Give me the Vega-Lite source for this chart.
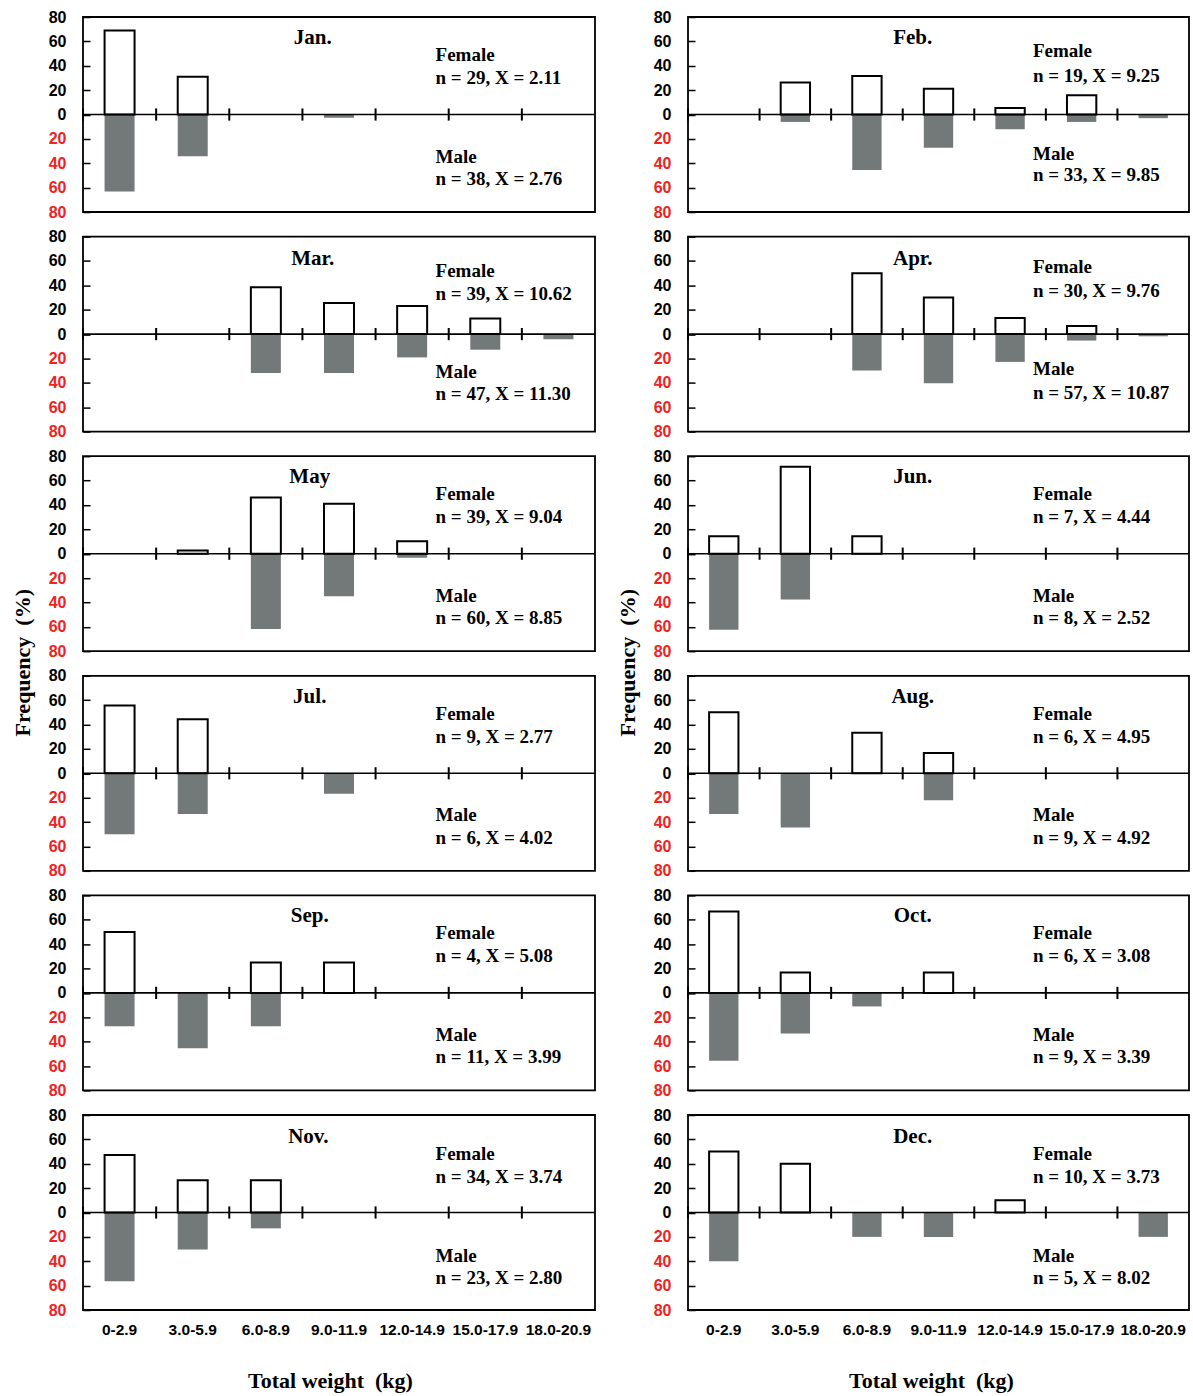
{
  "$schema": "https://vega.github.io/schema/vega-lite/v6.json",
  "padding": {"left": 10, "top": 8, "right": 2, "bottom": 2},
  "background": "white",
  "datasets": {
    "d": [
      {"month": "Jan", "cat": "0-2.9", "female": 69.0, "male": -63.2},
      {"month": "Jan", "cat": "3.0-5.9", "female": 31.0, "male": -34.2},
      {"month": "Jan", "cat": "9.0-11.9", "female": null, "male": -2.6},
      {"month": "Feb", "cat": "3.0-5.9", "female": 26.3, "male": -6.1},
      {"month": "Feb", "cat": "6.0-8.9", "female": 31.6, "male": -45.5},
      {"month": "Feb", "cat": "9.0-11.9", "female": 21.1, "male": -27.3},
      {"month": "Feb", "cat": "12.0-14.9", "female": 5.3, "male": -12.1},
      {"month": "Feb", "cat": "15.0-17.9", "female": 15.8, "male": -6.1},
      {"month": "Feb", "cat": "18.0-20.9", "female": null, "male": -3.0},
      {"month": "Mar", "cat": "6.0-8.9", "female": 38.5, "male": -31.9},
      {"month": "Mar", "cat": "9.0-11.9", "female": 25.6, "male": -31.9},
      {"month": "Mar", "cat": "12.0-14.9", "female": 23.1, "male": -19.1},
      {"month": "Mar", "cat": "15.0-17.9", "female": 12.8, "male": -12.8},
      {"month": "Mar", "cat": "18.0-20.9", "female": null, "male": -4.3},
      {"month": "Apr", "cat": "6.0-8.9", "female": 50.0, "male": -29.8},
      {"month": "Apr", "cat": "9.0-11.9", "female": 30.0, "male": -40.4},
      {"month": "Apr", "cat": "12.0-14.9", "female": 13.3, "male": -22.8},
      {"month": "Apr", "cat": "15.0-17.9", "female": 6.7, "male": -5.3},
      {"month": "Apr", "cat": "18.0-20.9", "female": null, "male": -1.8},
      {"month": "May", "cat": "3.0-5.9", "female": 2.6, "male": null},
      {"month": "May", "cat": "6.0-8.9", "female": 46.2, "male": -61.7},
      {"month": "May", "cat": "9.0-11.9", "female": 41.0, "male": -35.0},
      {"month": "May", "cat": "12.0-14.9", "female": 10.3, "male": -3.3},
      {"month": "Jun", "cat": "0-2.9", "female": 14.3, "male": -62.5},
      {"month": "Jun", "cat": "3.0-5.9", "female": 71.4, "male": -37.5},
      {"month": "Jun", "cat": "6.0-8.9", "female": 14.3, "male": null},
      {"month": "Jul", "cat": "0-2.9", "female": 55.6, "male": -50.0},
      {"month": "Jul", "cat": "3.0-5.9", "female": 44.4, "male": -33.3},
      {"month": "Jul", "cat": "9.0-11.9", "female": null, "male": -16.7},
      {"month": "Aug", "cat": "0-2.9", "female": 50.0, "male": -33.3},
      {"month": "Aug", "cat": "3.0-5.9", "female": null, "male": -44.4},
      {"month": "Aug", "cat": "6.0-8.9", "female": 33.3, "male": null},
      {"month": "Aug", "cat": "9.0-11.9", "female": 16.7, "male": -22.2},
      {"month": "Sep", "cat": "0-2.9", "female": 50.0, "male": -27.3},
      {"month": "Sep", "cat": "3.0-5.9", "female": null, "male": -45.5},
      {"month": "Sep", "cat": "6.0-8.9", "female": 25.0, "male": -27.3},
      {"month": "Sep", "cat": "9.0-11.9", "female": 25.0, "male": null},
      {"month": "Oct", "cat": "0-2.9", "female": 66.7, "male": -55.6},
      {"month": "Oct", "cat": "3.0-5.9", "female": 16.7, "male": -33.3},
      {"month": "Oct", "cat": "6.0-8.9", "female": null, "male": -11.1},
      {"month": "Oct", "cat": "9.0-11.9", "female": 16.7, "male": null},
      {"month": "Nov", "cat": "0-2.9", "female": 47.1, "male": -56.5},
      {"month": "Nov", "cat": "3.0-5.9", "female": 26.5, "male": -30.4},
      {"month": "Nov", "cat": "6.0-8.9", "female": 26.5, "male": -13.0},
      {"month": "Dec", "cat": "0-2.9", "female": 50.0, "male": -40.0},
      {"month": "Dec", "cat": "3.0-5.9", "female": 40.0, "male": null},
      {"month": "Dec", "cat": "6.0-8.9", "female": null, "male": -20.0},
      {"month": "Dec", "cat": "9.0-11.9", "female": null, "male": -20.0},
      {"month": "Dec", "cat": "12.0-14.9", "female": 10.0, "male": null},
      {"month": "Dec", "cat": "18.0-20.9", "female": null, "male": -20.0}
    ],
    "cats": [
      {"cat": "0-2.9"}, {"cat": "3.0-5.9"}, {"cat": "6.0-8.9"}, {"cat": "9.0-11.9"},
      {"cat": "12.0-14.9"}, {"cat": "15.0-17.9"}, {"cat": "18.0-20.9"}
    ],
    "ann": [
      {"month": "Jan", "title": "Jan.", "f": "n = 29, X = 2.11", "m": "n = 38, X = 2.76"},
      {"month": "Feb", "title": "Feb.", "f": "n = 19, X = 9.25", "m": "n = 33, X = 9.85"},
      {"month": "Mar", "title": "Mar.", "f": "n = 39, X = 10.62", "m": "n = 47, X = 11.30"},
      {"month": "Apr", "title": "Apr.", "f": "n = 30, X = 9.76", "m": "n = 57, X = 10.87"},
      {"month": "May", "title": "May", "f": "n = 39, X = 9.04", "m": "n = 60, X = 8.85"},
      {"month": "Jun", "title": "Jun.", "f": "n = 7, X = 4.44", "m": "n = 8, X = 2.52"},
      {"month": "Jul", "title": "Jul.", "f": "n = 9, X = 2.77", "m": "n = 6, X = 4.02"},
      {"month": "Aug", "title": "Aug.", "f": "n = 6, X = 4.95", "m": "n = 9, X = 4.92"},
      {"month": "Sep", "title": "Sep.", "f": "n = 4, X = 5.08", "m": "n = 11, X = 3.99"},
      {"month": "Oct", "title": "Oct.", "f": "n = 6, X = 3.08", "m": "n = 9, X = 3.39"},
      {"month": "Nov", "title": "Nov.", "f": "n = 34, X = 3.74", "m": "n = 23, X = 2.80"},
      {"month": "Dec", "title": "Dec.", "f": "n = 10, X = 3.73", "m": "n = 5, X = 8.02"}
    ]
  },
  "columns": 2,
  "bounds": "flush",
  "spacing": {"row": 24.6, "column": 93},
  "concat": [
    {
      "width": 512, "height": 195,
      "data": {"name": "d"}, "transform": [{"filter": "datum.month == 'Jan'"}],
      "layer": [
        {"mark": {"type": "bar", "fill": "#737878", "width": {"band": 0.41}},
         "encoding": {
           "x": {"field": "cat", "type": "nominal", "scale": {"domain": ["0-2.9","3.0-5.9","6.0-8.9","9.0-11.9","12.0-14.9","15.0-17.9","18.0-20.9"], "paddingInner": 0, "paddingOuter": 0}, "axis": null},
           "y": {"field": "male", "type": "quantitative", "scale": {"domain": [-80, 80], "nice": false}, "axis": {"values": [-80,-60,-40,-20,0,20,40,60,80], "tickCount": 9, "labelOverlap": false, "labelExpr": "abs(datum.value)", "labelColor": {"condition": {"test": "datum.value < 0", "value": "#f02222"}, "value": "black"}, "title": null}}}},
        {"mark": {"type": "bar", "fill": "white", "stroke": "black", "strokeWidth": 2, "width": {"band": 0.41}},
         "encoding": {"x": {"field": "cat", "type": "nominal", "axis": null}, "y": {"field": "female", "type": "quantitative"}}},
        {"data": {"name": "cats"}, "mark": {"type": "rule", "color": "black", "strokeWidth": 2},
         "encoding": {"x": {"field": "cat", "type": "nominal", "bandPosition": 0, "axis": null}, "y": {"datum": -5}, "y2": {"datum": 5}}},
        {"data": {"name": "ann"}, "transform": [{"filter": "datum.month == 'Jan'"}],
         "layer": [
           {"mark": {"type": "rule", "color": "black", "strokeWidth": 1.6}, "encoding": {"y": {"datum": 0}}},
           {"mark": {"type": "text", "style": "ttl"}, "encoding": {"x": {"datum": "9.0-11.9", "type": "nominal", "bandPosition": 0.14, "axis": null}, "y": {"datum": 63}, "text": {"field": "title"}}},
           {"mark": {"type": "text", "style": "ann", "text": "Female"}, "encoding": {"x": {"datum": "12.0-14.9", "type": "nominal", "bandPosition": 0.82, "axis": null}, "y": {"datum": 49}}},
           {"mark": {"type": "text", "style": "ann"}, "encoding": {"x": {"datum": "12.0-14.9", "type": "nominal", "bandPosition": 0.82, "axis": null}, "y": {"datum": 30}, "text": {"field": "f"}}},
           {"mark": {"type": "text", "style": "ann", "text": "Male"}, "encoding": {"x": {"datum": "12.0-14.9", "type": "nominal", "bandPosition": 0.82, "axis": null}, "y": {"datum": -34.5}}},
           {"mark": {"type": "text", "style": "ann"}, "encoding": {"x": {"datum": "12.0-14.9", "type": "nominal", "bandPosition": 0.82, "axis": null}, "y": {"datum": -53}, "text": {"field": "m"}}}
         ]}
      ]
    },
    {
      "width": 501, "height": 195,
      "data": {"name": "d"}, "transform": [{"filter": "datum.month == 'Feb'"}],
      "layer": [
        {"mark": {"type": "bar", "fill": "#737878", "width": {"band": 0.41}},
         "encoding": {
           "x": {"field": "cat", "type": "nominal", "scale": {"domain": ["0-2.9","3.0-5.9","6.0-8.9","9.0-11.9","12.0-14.9","15.0-17.9","18.0-20.9"], "paddingInner": 0, "paddingOuter": 0}, "axis": null},
           "y": {"field": "male", "type": "quantitative", "scale": {"domain": [-80, 80], "nice": false}, "axis": {"values": [-80,-60,-40,-20,0,20,40,60,80], "tickCount": 9, "labelOverlap": false, "labelExpr": "abs(datum.value)", "labelColor": {"condition": {"test": "datum.value < 0", "value": "#f02222"}, "value": "black"}, "title": null}}}},
        {"mark": {"type": "bar", "fill": "white", "stroke": "black", "strokeWidth": 2, "width": {"band": 0.41}},
         "encoding": {"x": {"field": "cat", "type": "nominal", "axis": null}, "y": {"field": "female", "type": "quantitative"}}},
        {"data": {"name": "cats"}, "mark": {"type": "rule", "color": "black", "strokeWidth": 2},
         "encoding": {"x": {"field": "cat", "type": "nominal", "bandPosition": 0, "axis": null}, "y": {"datum": -5}, "y2": {"datum": 5}}},
        {"data": {"name": "ann"}, "transform": [{"filter": "datum.month == 'Feb'"}],
         "layer": [
           {"mark": {"type": "rule", "color": "black", "strokeWidth": 1.6}, "encoding": {"y": {"datum": 0}}},
           {"mark": {"type": "text", "style": "ttl"}, "encoding": {"x": {"datum": "9.0-11.9", "type": "nominal", "bandPosition": 0.14, "axis": null}, "y": {"datum": 63}, "text": {"field": "title"}}},
           {"mark": {"type": "text", "style": "ann", "text": "Female"}, "encoding": {"x": {"datum": "12.0-14.9", "type": "nominal", "bandPosition": 0.82, "axis": null}, "y": {"datum": 52}}},
           {"mark": {"type": "text", "style": "ann"}, "encoding": {"x": {"datum": "12.0-14.9", "type": "nominal", "bandPosition": 0.82, "axis": null}, "y": {"datum": 32}, "text": {"field": "f"}}},
           {"mark": {"type": "text", "style": "ann", "text": "Male"}, "encoding": {"x": {"datum": "12.0-14.9", "type": "nominal", "bandPosition": 0.82, "axis": null}, "y": {"datum": -32}}},
           {"mark": {"type": "text", "style": "ann"}, "encoding": {"x": {"datum": "12.0-14.9", "type": "nominal", "bandPosition": 0.82, "axis": null}, "y": {"datum": -50}, "text": {"field": "m"}}}
         ]}
      ]
    },
    {
      "width": 512, "height": 195,
      "data": {"name": "d"}, "transform": [{"filter": "datum.month == 'Mar'"}],
      "layer": [
        {"mark": {"type": "bar", "fill": "#737878", "width": {"band": 0.41}},
         "encoding": {
           "x": {"field": "cat", "type": "nominal", "scale": {"domain": ["0-2.9","3.0-5.9","6.0-8.9","9.0-11.9","12.0-14.9","15.0-17.9","18.0-20.9"], "paddingInner": 0, "paddingOuter": 0}, "axis": null},
           "y": {"field": "male", "type": "quantitative", "scale": {"domain": [-80, 80], "nice": false}, "axis": {"values": [-80,-60,-40,-20,0,20,40,60,80], "tickCount": 9, "labelOverlap": false, "labelExpr": "abs(datum.value)", "labelColor": {"condition": {"test": "datum.value < 0", "value": "#f02222"}, "value": "black"}, "title": null}}}},
        {"mark": {"type": "bar", "fill": "white", "stroke": "black", "strokeWidth": 2, "width": {"band": 0.41}},
         "encoding": {"x": {"field": "cat", "type": "nominal", "axis": null}, "y": {"field": "female", "type": "quantitative"}}},
        {"data": {"name": "cats"}, "mark": {"type": "rule", "color": "black", "strokeWidth": 2},
         "encoding": {"x": {"field": "cat", "type": "nominal", "bandPosition": 0, "axis": null}, "y": {"datum": -5}, "y2": {"datum": 5}}},
        {"data": {"name": "ann"}, "transform": [{"filter": "datum.month == 'Mar'"}],
         "layer": [
           {"mark": {"type": "rule", "color": "black", "strokeWidth": 1.6}, "encoding": {"y": {"datum": 0}}},
           {"mark": {"type": "text", "style": "ttl"}, "encoding": {"x": {"datum": "9.0-11.9", "type": "nominal", "bandPosition": 0.14, "axis": null}, "y": {"datum": 62}, "text": {"field": "title"}}},
           {"mark": {"type": "text", "style": "ann", "text": "Female"}, "encoding": {"x": {"datum": "12.0-14.9", "type": "nominal", "bandPosition": 0.82, "axis": null}, "y": {"datum": 52}}},
           {"mark": {"type": "text", "style": "ann"}, "encoding": {"x": {"datum": "12.0-14.9", "type": "nominal", "bandPosition": 0.82, "axis": null}, "y": {"datum": 33}, "text": {"field": "f"}}},
           {"mark": {"type": "text", "style": "ann", "text": "Male"}, "encoding": {"x": {"datum": "12.0-14.9", "type": "nominal", "bandPosition": 0.82, "axis": null}, "y": {"datum": -31}}},
           {"mark": {"type": "text", "style": "ann"}, "encoding": {"x": {"datum": "12.0-14.9", "type": "nominal", "bandPosition": 0.82, "axis": null}, "y": {"datum": -49.5}, "text": {"field": "m"}}}
         ]}
      ]
    },
    {
      "width": 501, "height": 195,
      "data": {"name": "d"}, "transform": [{"filter": "datum.month == 'Apr'"}],
      "layer": [
        {"mark": {"type": "bar", "fill": "#737878", "width": {"band": 0.41}},
         "encoding": {
           "x": {"field": "cat", "type": "nominal", "scale": {"domain": ["0-2.9","3.0-5.9","6.0-8.9","9.0-11.9","12.0-14.9","15.0-17.9","18.0-20.9"], "paddingInner": 0, "paddingOuter": 0}, "axis": null},
           "y": {"field": "male", "type": "quantitative", "scale": {"domain": [-80, 80], "nice": false}, "axis": {"values": [-80,-60,-40,-20,0,20,40,60,80], "tickCount": 9, "labelOverlap": false, "labelExpr": "abs(datum.value)", "labelColor": {"condition": {"test": "datum.value < 0", "value": "#f02222"}, "value": "black"}, "title": null}}}},
        {"mark": {"type": "bar", "fill": "white", "stroke": "black", "strokeWidth": 2, "width": {"band": 0.41}},
         "encoding": {"x": {"field": "cat", "type": "nominal", "axis": null}, "y": {"field": "female", "type": "quantitative"}}},
        {"data": {"name": "cats"}, "mark": {"type": "rule", "color": "black", "strokeWidth": 2},
         "encoding": {"x": {"field": "cat", "type": "nominal", "bandPosition": 0, "axis": null}, "y": {"datum": -5}, "y2": {"datum": 5}}},
        {"data": {"name": "ann"}, "transform": [{"filter": "datum.month == 'Apr'"}],
         "layer": [
           {"mark": {"type": "rule", "color": "black", "strokeWidth": 1.6}, "encoding": {"y": {"datum": 0}}},
           {"mark": {"type": "text", "style": "ttl"}, "encoding": {"x": {"datum": "9.0-11.9", "type": "nominal", "bandPosition": 0.14, "axis": null}, "y": {"datum": 62}, "text": {"field": "title"}}},
           {"mark": {"type": "text", "style": "ann", "text": "Female"}, "encoding": {"x": {"datum": "12.0-14.9", "type": "nominal", "bandPosition": 0.82, "axis": null}, "y": {"datum": 55}}},
           {"mark": {"type": "text", "style": "ann"}, "encoding": {"x": {"datum": "12.0-14.9", "type": "nominal", "bandPosition": 0.82, "axis": null}, "y": {"datum": 35}, "text": {"field": "f"}}},
           {"mark": {"type": "text", "style": "ann", "text": "Male"}, "encoding": {"x": {"datum": "12.0-14.9", "type": "nominal", "bandPosition": 0.82, "axis": null}, "y": {"datum": -29}}},
           {"mark": {"type": "text", "style": "ann"}, "encoding": {"x": {"datum": "12.0-14.9", "type": "nominal", "bandPosition": 0.82, "axis": null}, "y": {"datum": -48}, "text": {"field": "m"}}}
         ]}
      ]
    },
    {
      "width": 512, "height": 195,
      "data": {"name": "d"}, "transform": [{"filter": "datum.month == 'May'"}],
      "layer": [
        {"mark": {"type": "bar", "fill": "#737878", "width": {"band": 0.41}},
         "encoding": {
           "x": {"field": "cat", "type": "nominal", "scale": {"domain": ["0-2.9","3.0-5.9","6.0-8.9","9.0-11.9","12.0-14.9","15.0-17.9","18.0-20.9"], "paddingInner": 0, "paddingOuter": 0}, "axis": null},
           "y": {"field": "male", "type": "quantitative", "scale": {"domain": [-80, 80], "nice": false}, "axis": {"values": [-80,-60,-40,-20,0,20,40,60,80], "tickCount": 9, "labelOverlap": false, "labelExpr": "abs(datum.value)", "labelColor": {"condition": {"test": "datum.value < 0", "value": "#f02222"}, "value": "black"}, "title": "Frequency\u00a0 (%)", "titleY": 206}}}},
        {"mark": {"type": "bar", "fill": "white", "stroke": "black", "strokeWidth": 2, "width": {"band": 0.41}},
         "encoding": {"x": {"field": "cat", "type": "nominal", "axis": null}, "y": {"field": "female", "type": "quantitative"}}},
        {"data": {"name": "cats"}, "mark": {"type": "rule", "color": "black", "strokeWidth": 2},
         "encoding": {"x": {"field": "cat", "type": "nominal", "bandPosition": 0, "axis": null}, "y": {"datum": -5}, "y2": {"datum": 5}}},
        {"data": {"name": "ann"}, "transform": [{"filter": "datum.month == 'May'"}],
         "layer": [
           {"mark": {"type": "rule", "color": "black", "strokeWidth": 1.6}, "encoding": {"y": {"datum": 0}}},
           {"mark": {"type": "text", "style": "ttl"}, "encoding": {"x": {"datum": "9.0-11.9", "type": "nominal", "bandPosition": 0.1, "axis": null}, "y": {"datum": 63}, "text": {"field": "title"}}},
           {"mark": {"type": "text", "style": "ann", "text": "Female"}, "encoding": {"x": {"datum": "12.0-14.9", "type": "nominal", "bandPosition": 0.82, "axis": null}, "y": {"datum": 49}}},
           {"mark": {"type": "text", "style": "ann"}, "encoding": {"x": {"datum": "12.0-14.9", "type": "nominal", "bandPosition": 0.82, "axis": null}, "y": {"datum": 30}, "text": {"field": "f"}}},
           {"mark": {"type": "text", "style": "ann", "text": "Male"}, "encoding": {"x": {"datum": "12.0-14.9", "type": "nominal", "bandPosition": 0.82, "axis": null}, "y": {"datum": -34.5}}},
           {"mark": {"type": "text", "style": "ann"}, "encoding": {"x": {"datum": "12.0-14.9", "type": "nominal", "bandPosition": 0.82, "axis": null}, "y": {"datum": -53}, "text": {"field": "m"}}}
         ]}
      ]
    },
    {
      "width": 501, "height": 195,
      "data": {"name": "d"}, "transform": [{"filter": "datum.month == 'Jun'"}],
      "layer": [
        {"mark": {"type": "bar", "fill": "#737878", "width": {"band": 0.41}},
         "encoding": {
           "x": {"field": "cat", "type": "nominal", "scale": {"domain": ["0-2.9","3.0-5.9","6.0-8.9","9.0-11.9","12.0-14.9","15.0-17.9","18.0-20.9"], "paddingInner": 0, "paddingOuter": 0}, "axis": null},
           "y": {"field": "male", "type": "quantitative", "scale": {"domain": [-80, 80], "nice": false}, "axis": {"values": [-80,-60,-40,-20,0,20,40,60,80], "tickCount": 9, "labelOverlap": false, "labelExpr": "abs(datum.value)", "labelColor": {"condition": {"test": "datum.value < 0", "value": "#f02222"}, "value": "black"}, "title": "Frequency\u00a0 (%)", "titleY": 206}}}},
        {"mark": {"type": "bar", "fill": "white", "stroke": "black", "strokeWidth": 2, "width": {"band": 0.41}},
         "encoding": {"x": {"field": "cat", "type": "nominal", "axis": null}, "y": {"field": "female", "type": "quantitative"}}},
        {"data": {"name": "cats"}, "mark": {"type": "rule", "color": "black", "strokeWidth": 2},
         "encoding": {"x": {"field": "cat", "type": "nominal", "bandPosition": 0, "axis": null}, "y": {"datum": -5}, "y2": {"datum": 5}}},
        {"data": {"name": "ann"}, "transform": [{"filter": "datum.month == 'Jun'"}],
         "layer": [
           {"mark": {"type": "rule", "color": "black", "strokeWidth": 1.6}, "encoding": {"y": {"datum": 0}}},
           {"mark": {"type": "text", "style": "ttl"}, "encoding": {"x": {"datum": "9.0-11.9", "type": "nominal", "bandPosition": 0.14, "axis": null}, "y": {"datum": 63}, "text": {"field": "title"}}},
           {"mark": {"type": "text", "style": "ann", "text": "Female"}, "encoding": {"x": {"datum": "12.0-14.9", "type": "nominal", "bandPosition": 0.82, "axis": null}, "y": {"datum": 49}}},
           {"mark": {"type": "text", "style": "ann"}, "encoding": {"x": {"datum": "12.0-14.9", "type": "nominal", "bandPosition": 0.82, "axis": null}, "y": {"datum": 30}, "text": {"field": "f"}}},
           {"mark": {"type": "text", "style": "ann", "text": "Male"}, "encoding": {"x": {"datum": "12.0-14.9", "type": "nominal", "bandPosition": 0.82, "axis": null}, "y": {"datum": -34.5}}},
           {"mark": {"type": "text", "style": "ann"}, "encoding": {"x": {"datum": "12.0-14.9", "type": "nominal", "bandPosition": 0.82, "axis": null}, "y": {"datum": -53}, "text": {"field": "m"}}}
         ]}
      ]
    },
    {
      "width": 512, "height": 195,
      "data": {"name": "d"}, "transform": [{"filter": "datum.month == 'Jul'"}],
      "layer": [
        {"mark": {"type": "bar", "fill": "#737878", "width": {"band": 0.41}},
         "encoding": {
           "x": {"field": "cat", "type": "nominal", "scale": {"domain": ["0-2.9","3.0-5.9","6.0-8.9","9.0-11.9","12.0-14.9","15.0-17.9","18.0-20.9"], "paddingInner": 0, "paddingOuter": 0}, "axis": null},
           "y": {"field": "male", "type": "quantitative", "scale": {"domain": [-80, 80], "nice": false}, "axis": {"values": [-80,-60,-40,-20,0,20,40,60,80], "tickCount": 9, "labelOverlap": false, "labelExpr": "abs(datum.value)", "labelColor": {"condition": {"test": "datum.value < 0", "value": "#f02222"}, "value": "black"}, "title": null}}}},
        {"mark": {"type": "bar", "fill": "white", "stroke": "black", "strokeWidth": 2, "width": {"band": 0.41}},
         "encoding": {"x": {"field": "cat", "type": "nominal", "axis": null}, "y": {"field": "female", "type": "quantitative"}}},
        {"data": {"name": "cats"}, "mark": {"type": "rule", "color": "black", "strokeWidth": 2},
         "encoding": {"x": {"field": "cat", "type": "nominal", "bandPosition": 0, "axis": null}, "y": {"datum": -5}, "y2": {"datum": 5}}},
        {"data": {"name": "ann"}, "transform": [{"filter": "datum.month == 'Jul'"}],
         "layer": [
           {"mark": {"type": "rule", "color": "black", "strokeWidth": 1.6}, "encoding": {"y": {"datum": 0}}},
           {"mark": {"type": "text", "style": "ttl"}, "encoding": {"x": {"datum": "9.0-11.9", "type": "nominal", "bandPosition": 0.1, "axis": null}, "y": {"datum": 63}, "text": {"field": "title"}}},
           {"mark": {"type": "text", "style": "ann", "text": "Female"}, "encoding": {"x": {"datum": "12.0-14.9", "type": "nominal", "bandPosition": 0.82, "axis": null}, "y": {"datum": 49}}},
           {"mark": {"type": "text", "style": "ann"}, "encoding": {"x": {"datum": "12.0-14.9", "type": "nominal", "bandPosition": 0.82, "axis": null}, "y": {"datum": 30}, "text": {"field": "f"}}},
           {"mark": {"type": "text", "style": "ann", "text": "Male"}, "encoding": {"x": {"datum": "12.0-14.9", "type": "nominal", "bandPosition": 0.82, "axis": null}, "y": {"datum": -34.5}}},
           {"mark": {"type": "text", "style": "ann"}, "encoding": {"x": {"datum": "12.0-14.9", "type": "nominal", "bandPosition": 0.82, "axis": null}, "y": {"datum": -53}, "text": {"field": "m"}}}
         ]}
      ]
    },
    {
      "width": 501, "height": 195,
      "data": {"name": "d"}, "transform": [{"filter": "datum.month == 'Aug'"}],
      "layer": [
        {"mark": {"type": "bar", "fill": "#737878", "width": {"band": 0.41}},
         "encoding": {
           "x": {"field": "cat", "type": "nominal", "scale": {"domain": ["0-2.9","3.0-5.9","6.0-8.9","9.0-11.9","12.0-14.9","15.0-17.9","18.0-20.9"], "paddingInner": 0, "paddingOuter": 0}, "axis": null},
           "y": {"field": "male", "type": "quantitative", "scale": {"domain": [-80, 80], "nice": false}, "axis": {"values": [-80,-60,-40,-20,0,20,40,60,80], "tickCount": 9, "labelOverlap": false, "labelExpr": "abs(datum.value)", "labelColor": {"condition": {"test": "datum.value < 0", "value": "#f02222"}, "value": "black"}, "title": null}}}},
        {"mark": {"type": "bar", "fill": "white", "stroke": "black", "strokeWidth": 2, "width": {"band": 0.41}},
         "encoding": {"x": {"field": "cat", "type": "nominal", "axis": null}, "y": {"field": "female", "type": "quantitative"}}},
        {"data": {"name": "cats"}, "mark": {"type": "rule", "color": "black", "strokeWidth": 2},
         "encoding": {"x": {"field": "cat", "type": "nominal", "bandPosition": 0, "axis": null}, "y": {"datum": -5}, "y2": {"datum": 5}}},
        {"data": {"name": "ann"}, "transform": [{"filter": "datum.month == 'Aug'"}],
         "layer": [
           {"mark": {"type": "rule", "color": "black", "strokeWidth": 1.6}, "encoding": {"y": {"datum": 0}}},
           {"mark": {"type": "text", "style": "ttl"}, "encoding": {"x": {"datum": "9.0-11.9", "type": "nominal", "bandPosition": 0.14, "axis": null}, "y": {"datum": 63}, "text": {"field": "title"}}},
           {"mark": {"type": "text", "style": "ann", "text": "Female"}, "encoding": {"x": {"datum": "12.0-14.9", "type": "nominal", "bandPosition": 0.82, "axis": null}, "y": {"datum": 49}}},
           {"mark": {"type": "text", "style": "ann"}, "encoding": {"x": {"datum": "12.0-14.9", "type": "nominal", "bandPosition": 0.82, "axis": null}, "y": {"datum": 30}, "text": {"field": "f"}}},
           {"mark": {"type": "text", "style": "ann", "text": "Male"}, "encoding": {"x": {"datum": "12.0-14.9", "type": "nominal", "bandPosition": 0.82, "axis": null}, "y": {"datum": -34.5}}},
           {"mark": {"type": "text", "style": "ann"}, "encoding": {"x": {"datum": "12.0-14.9", "type": "nominal", "bandPosition": 0.82, "axis": null}, "y": {"datum": -53}, "text": {"field": "m"}}}
         ]}
      ]
    },
    {
      "width": 512, "height": 195,
      "data": {"name": "d"}, "transform": [{"filter": "datum.month == 'Sep'"}],
      "layer": [
        {"mark": {"type": "bar", "fill": "#737878", "width": {"band": 0.41}},
         "encoding": {
           "x": {"field": "cat", "type": "nominal", "scale": {"domain": ["0-2.9","3.0-5.9","6.0-8.9","9.0-11.9","12.0-14.9","15.0-17.9","18.0-20.9"], "paddingInner": 0, "paddingOuter": 0}, "axis": null},
           "y": {"field": "male", "type": "quantitative", "scale": {"domain": [-80, 80], "nice": false}, "axis": {"values": [-80,-60,-40,-20,0,20,40,60,80], "tickCount": 9, "labelOverlap": false, "labelExpr": "abs(datum.value)", "labelColor": {"condition": {"test": "datum.value < 0", "value": "#f02222"}, "value": "black"}, "title": null}}}},
        {"mark": {"type": "bar", "fill": "white", "stroke": "black", "strokeWidth": 2, "width": {"band": 0.41}},
         "encoding": {"x": {"field": "cat", "type": "nominal", "axis": null}, "y": {"field": "female", "type": "quantitative"}}},
        {"data": {"name": "cats"}, "mark": {"type": "rule", "color": "black", "strokeWidth": 2},
         "encoding": {"x": {"field": "cat", "type": "nominal", "bandPosition": 0, "axis": null}, "y": {"datum": -5}, "y2": {"datum": 5}}},
        {"data": {"name": "ann"}, "transform": [{"filter": "datum.month == 'Sep'"}],
         "layer": [
           {"mark": {"type": "rule", "color": "black", "strokeWidth": 1.6}, "encoding": {"y": {"datum": 0}}},
           {"mark": {"type": "text", "style": "ttl"}, "encoding": {"x": {"datum": "9.0-11.9", "type": "nominal", "bandPosition": 0.1, "axis": null}, "y": {"datum": 63}, "text": {"field": "title"}}},
           {"mark": {"type": "text", "style": "ann", "text": "Female"}, "encoding": {"x": {"datum": "12.0-14.9", "type": "nominal", "bandPosition": 0.82, "axis": null}, "y": {"datum": 49}}},
           {"mark": {"type": "text", "style": "ann"}, "encoding": {"x": {"datum": "12.0-14.9", "type": "nominal", "bandPosition": 0.82, "axis": null}, "y": {"datum": 30}, "text": {"field": "f"}}},
           {"mark": {"type": "text", "style": "ann", "text": "Male"}, "encoding": {"x": {"datum": "12.0-14.9", "type": "nominal", "bandPosition": 0.82, "axis": null}, "y": {"datum": -34.5}}},
           {"mark": {"type": "text", "style": "ann"}, "encoding": {"x": {"datum": "12.0-14.9", "type": "nominal", "bandPosition": 0.82, "axis": null}, "y": {"datum": -53}, "text": {"field": "m"}}}
         ]}
      ]
    },
    {
      "width": 501, "height": 195,
      "data": {"name": "d"}, "transform": [{"filter": "datum.month == 'Oct'"}],
      "layer": [
        {"mark": {"type": "bar", "fill": "#737878", "width": {"band": 0.41}},
         "encoding": {
           "x": {"field": "cat", "type": "nominal", "scale": {"domain": ["0-2.9","3.0-5.9","6.0-8.9","9.0-11.9","12.0-14.9","15.0-17.9","18.0-20.9"], "paddingInner": 0, "paddingOuter": 0}, "axis": null},
           "y": {"field": "male", "type": "quantitative", "scale": {"domain": [-80, 80], "nice": false}, "axis": {"values": [-80,-60,-40,-20,0,20,40,60,80], "tickCount": 9, "labelOverlap": false, "labelExpr": "abs(datum.value)", "labelColor": {"condition": {"test": "datum.value < 0", "value": "#f02222"}, "value": "black"}, "title": null}}}},
        {"mark": {"type": "bar", "fill": "white", "stroke": "black", "strokeWidth": 2, "width": {"band": 0.41}},
         "encoding": {"x": {"field": "cat", "type": "nominal", "axis": null}, "y": {"field": "female", "type": "quantitative"}}},
        {"data": {"name": "cats"}, "mark": {"type": "rule", "color": "black", "strokeWidth": 2},
         "encoding": {"x": {"field": "cat", "type": "nominal", "bandPosition": 0, "axis": null}, "y": {"datum": -5}, "y2": {"datum": 5}}},
        {"data": {"name": "ann"}, "transform": [{"filter": "datum.month == 'Oct'"}],
         "layer": [
           {"mark": {"type": "rule", "color": "black", "strokeWidth": 1.6}, "encoding": {"y": {"datum": 0}}},
           {"mark": {"type": "text", "style": "ttl"}, "encoding": {"x": {"datum": "9.0-11.9", "type": "nominal", "bandPosition": 0.14, "axis": null}, "y": {"datum": 63}, "text": {"field": "title"}}},
           {"mark": {"type": "text", "style": "ann", "text": "Female"}, "encoding": {"x": {"datum": "12.0-14.9", "type": "nominal", "bandPosition": 0.82, "axis": null}, "y": {"datum": 49}}},
           {"mark": {"type": "text", "style": "ann"}, "encoding": {"x": {"datum": "12.0-14.9", "type": "nominal", "bandPosition": 0.82, "axis": null}, "y": {"datum": 30}, "text": {"field": "f"}}},
           {"mark": {"type": "text", "style": "ann", "text": "Male"}, "encoding": {"x": {"datum": "12.0-14.9", "type": "nominal", "bandPosition": 0.82, "axis": null}, "y": {"datum": -34.5}}},
           {"mark": {"type": "text", "style": "ann"}, "encoding": {"x": {"datum": "12.0-14.9", "type": "nominal", "bandPosition": 0.82, "axis": null}, "y": {"datum": -53}, "text": {"field": "m"}}}
         ]}
      ]
    },
    {
      "width": 512, "height": 195,
      "data": {"name": "d"}, "transform": [{"filter": "datum.month == 'Nov'"}],
      "layer": [
        {"mark": {"type": "bar", "fill": "#737878", "width": {"band": 0.41}},
         "encoding": {
           "x": {"field": "cat", "type": "nominal", "scale": {"domain": ["0-2.9","3.0-5.9","6.0-8.9","9.0-11.9","12.0-14.9","15.0-17.9","18.0-20.9"], "paddingInner": 0, "paddingOuter": 0}, "axis": {"title": "Total weight\u00a0 (kg)", "titleX": 247}},
           "y": {"field": "male", "type": "quantitative", "scale": {"domain": [-80, 80], "nice": false}, "axis": {"values": [-80,-60,-40,-20,0,20,40,60,80], "tickCount": 9, "labelOverlap": false, "labelExpr": "abs(datum.value)", "labelColor": {"condition": {"test": "datum.value < 0", "value": "#f02222"}, "value": "black"}, "title": null}}}},
        {"mark": {"type": "bar", "fill": "white", "stroke": "black", "strokeWidth": 2, "width": {"band": 0.41}},
         "encoding": {"x": {"field": "cat", "type": "nominal"}, "y": {"field": "female", "type": "quantitative"}}},
        {"data": {"name": "cats"}, "mark": {"type": "rule", "color": "black", "strokeWidth": 2},
         "encoding": {"x": {"field": "cat", "type": "nominal", "bandPosition": 0}, "y": {"datum": -5}, "y2": {"datum": 5}}},
        {"data": {"name": "ann"}, "transform": [{"filter": "datum.month == 'Nov'"}],
         "layer": [
           {"mark": {"type": "rule", "color": "black", "strokeWidth": 1.6}, "encoding": {"y": {"datum": 0}}},
           {"mark": {"type": "text", "style": "ttl"}, "encoding": {"x": {"datum": "9.0-11.9", "type": "nominal", "bandPosition": 0.08}, "y": {"datum": 62}, "text": {"field": "title"}}},
           {"mark": {"type": "text", "style": "ann", "text": "Female"}, "encoding": {"x": {"datum": "12.0-14.9", "type": "nominal", "bandPosition": 0.82}, "y": {"datum": 48}}},
           {"mark": {"type": "text", "style": "ann"}, "encoding": {"x": {"datum": "12.0-14.9", "type": "nominal", "bandPosition": 0.82}, "y": {"datum": 29}, "text": {"field": "f"}}},
           {"mark": {"type": "text", "style": "ann", "text": "Male"}, "encoding": {"x": {"datum": "12.0-14.9", "type": "nominal", "bandPosition": 0.82}, "y": {"datum": -35.5}}},
           {"mark": {"type": "text", "style": "ann"}, "encoding": {"x": {"datum": "12.0-14.9", "type": "nominal", "bandPosition": 0.82}, "y": {"datum": -54}, "text": {"field": "m"}}}
         ]}
      ]
    },
    {
      "width": 501, "height": 195,
      "data": {"name": "d"}, "transform": [{"filter": "datum.month == 'Dec'"}],
      "layer": [
        {"mark": {"type": "bar", "fill": "#737878", "width": {"band": 0.41}},
         "encoding": {
           "x": {"field": "cat", "type": "nominal", "scale": {"domain": ["0-2.9","3.0-5.9","6.0-8.9","9.0-11.9","12.0-14.9","15.0-17.9","18.0-20.9"], "paddingInner": 0, "paddingOuter": 0}, "axis": {"title": "Total weight\u00a0 (kg)", "titleX": 243}},
           "y": {"field": "male", "type": "quantitative", "scale": {"domain": [-80, 80], "nice": false}, "axis": {"values": [-80,-60,-40,-20,0,20,40,60,80], "tickCount": 9, "labelOverlap": false, "labelExpr": "abs(datum.value)", "labelColor": {"condition": {"test": "datum.value < 0", "value": "#f02222"}, "value": "black"}, "title": null}}}},
        {"mark": {"type": "bar", "fill": "white", "stroke": "black", "strokeWidth": 2, "width": {"band": 0.41}},
         "encoding": {"x": {"field": "cat", "type": "nominal"}, "y": {"field": "female", "type": "quantitative"}}},
        {"data": {"name": "cats"}, "mark": {"type": "rule", "color": "black", "strokeWidth": 2},
         "encoding": {"x": {"field": "cat", "type": "nominal", "bandPosition": 0}, "y": {"datum": -5}, "y2": {"datum": 5}}},
        {"data": {"name": "ann"}, "transform": [{"filter": "datum.month == 'Dec'"}],
         "layer": [
           {"mark": {"type": "rule", "color": "black", "strokeWidth": 1.6}, "encoding": {"y": {"datum": 0}}},
           {"mark": {"type": "text", "style": "ttl"}, "encoding": {"x": {"datum": "9.0-11.9", "type": "nominal", "bandPosition": 0.14}, "y": {"datum": 62}, "text": {"field": "title"}}},
           {"mark": {"type": "text", "style": "ann", "text": "Female"}, "encoding": {"x": {"datum": "12.0-14.9", "type": "nominal", "bandPosition": 0.82}, "y": {"datum": 48}}},
           {"mark": {"type": "text", "style": "ann"}, "encoding": {"x": {"datum": "12.0-14.9", "type": "nominal", "bandPosition": 0.82}, "y": {"datum": 29}, "text": {"field": "f"}}},
           {"mark": {"type": "text", "style": "ann", "text": "Male"}, "encoding": {"x": {"datum": "12.0-14.9", "type": "nominal", "bandPosition": 0.82}, "y": {"datum": -35.5}}},
           {"mark": {"type": "text", "style": "ann"}, "encoding": {"x": {"datum": "12.0-14.9", "type": "nominal", "bandPosition": 0.82}, "y": {"datum": -54}, "text": {"field": "m"}}}
         ]}
      ]
    }
  ],
  "config": {
    "view": {"stroke": "black", "strokeWidth": 1.8},
    "axis": {
      "labelFont": "Liberation Sans", "labelFontWeight": "bold", "labelFontSize": 16,
      "titleFont": "Liberation Serif", "titleFontWeight": "bold", "titleFontSize": 22, "titleColor": "black",
      "grid": false, "domain": false, "tickColor": "black", "labelOverlap": false
    },
    "axisY": {"tickSize": -7, "tickWidth": 1.5, "labelPadding": 24, "titlePadding": 14, "labelOverlap": false},
    "axisX": {"labelFont": "Liberation Sans", "labelFontSize": 15.5, "labelColor": "black", "ticks": false, "labelPadding": 12, "titlePadding": 33, "labelAngle": 0, "labelOverlap": false},
    "style": {
      "ann": {"font": "Liberation Serif", "fontWeight": "bold", "fontSize": 19, "align": "left", "baseline": "middle"},
      "ttl": {"font": "Liberation Serif", "fontWeight": "bold", "fontSize": 21, "align": "center", "baseline": "middle"}
    }
  }
}
